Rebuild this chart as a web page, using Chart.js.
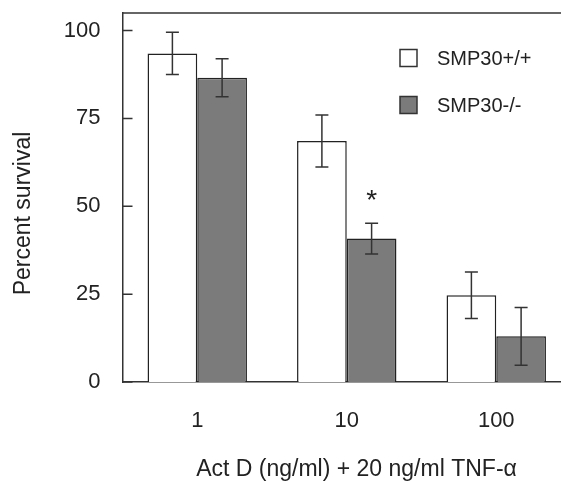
<!DOCTYPE html>
<html>
<head>
<meta charset="utf-8">
<script src="https://cdn.jsdelivr.net/npm/chart.js@4.4.1/dist/chart.umd.min.js"></script>
<style>
  html, body { margin: 0; padding: 0; background: #fff; overflow: hidden; }
  #wrap { width: 571px; height: 481px; position: relative; }
</style>
</head>
<body>
<div id="wrap"><canvas id="render"></canvas></div>
<script>
const categories = ['1', '10', '100'];
const seriesNames = ['SMP30+/+', 'SMP30-/-'];
const wildType = [93.5, 68.6, 24.7];
const wildTypeErr = [6.0, 7.4, 6.6];
const knockout = [86.6, 40.8, 13.0];
const knockoutErr = [5.4, 4.4, 8.2];
const knockoutMarks = ['', '*', ''];
const yTicks = [0, 25, 50, 75, 100];
const yTitle = 'Percent survival';
const xTitle = 'Act D (ng/ml) + 20 ng/ml TNF-α';

const ink = '#222';
const fontFamily = '"Liberation Sans", Arial, Helvetica, sans-serif';

const data = {
    labels: categories,
    datasets: [{
        label: seriesNames[0],
        data: wildType,
        errors: wildTypeErr,
        backgroundColor: '#ffffff',
        borderColor: ink,
        borderWidth: 1.5
    }, {
        label: seriesNames[1],
        data: knockout,
        errors: knockoutErr,
        marks: knockoutMarks,
        backgroundColor: '#7b7b7b',
        borderColor: ink,
        borderWidth: 1.5
    }]
};

// error bars, inward y ticks, top frame line, asterisk, legend, axis titles
const extras = {
    id: 'extras',
    afterDatasetsDraw(chart) {
        const ctx = chart.ctx;
        const y = chart.scales.y;
        const area = chart.chartArea;
        ctx.save();
        ctx.strokeStyle = '#333';
        ctx.lineWidth = 1.5;

        chart.data.datasets.forEach((ds, i) => {
            const meta = chart.getDatasetMeta(i);
            meta.data.forEach((bar, j) => {
                const v = ds.data[j], e = ds.errors[j];
                const top = y.getPixelForValue(v + e);
                const bot = y.getPixelForValue(v - e);
                ctx.beginPath();
                ctx.moveTo(bar.x, top); ctx.lineTo(bar.x, bot);
                ctx.moveTo(bar.x - 6.5, top); ctx.lineTo(bar.x + 6.5, top);
                ctx.moveTo(bar.x - 6.5, bot); ctx.lineTo(bar.x + 6.5, bot);
                ctx.stroke();
                if (ds.marks && ds.marks[j]) {
                    ctx.fillStyle = ink;
                    ctx.font = '28px ' + fontFamily;
                    ctx.textAlign = 'center';
                    ctx.textBaseline = 'alphabetic';
                    ctx.fillText(ds.marks[j], bar.x, top - 14);
                }
            });
        });

        // top frame line
        ctx.beginPath();
        ctx.moveTo(area.left, area.top);
        ctx.lineTo(area.right, area.top);
        ctx.stroke();

        // inward ticks on y axis
        ctx.beginPath();
        y.ticks.forEach(t => {
            const py = y.getPixelForValue(t.value);
            ctx.moveTo(area.left, py);
            ctx.lineTo(area.left + 10, py);
        });
        ctx.stroke();

        // legend
        ctx.font = '20px ' + fontFamily;
        ctx.textAlign = 'left';
        ctx.textBaseline = 'middle';
        chart.data.datasets.forEach((ds, i) => {
            const cy = 58 + i * 47;
            ctx.fillStyle = ds.backgroundColor;
            ctx.fillRect(400, cy - 8.5, 17, 17);
            ctx.strokeRect(400, cy - 8.5, 17, 17);
            ctx.fillStyle = ink;
            ctx.fillText(ds.label, 437, cy + 1);
        });

        // axis titles (slightly off the plot centre in the original)
        ctx.font = '23px ' + fontFamily;
        ctx.textAlign = 'center';
        ctx.textBaseline = 'middle';
        ctx.fillStyle = ink;
        ctx.fillText(xTitle, 356.5, 470);
        ctx.translate(24, 213.5);
        ctx.rotate(-Math.PI / 2);
        ctx.fillText(yTitle, 0, 0);
        ctx.restore();
    }
};

const ctx = document.getElementById('render');
const chart = new Chart(ctx, {
    type: 'bar',
    data: data,
    options: {
        responsive: true,
        maintainAspectRatio: false,
        animation: false,
        layout: { padding: 0 },
        datasets: {
            bar: { categoryPercentage: 0.665, barPercentage: 1.0 }
        },
        plugins: {
            legend: { display: false },
            tooltip: { enabled: false }
        },
        scales: {
            x: {
                offset: true,
                grid: { display: false, drawTicks: false },
                border: { display: true, color: '#333', width: 1.5 },
                ticks: { color: ink, font: { family: fontFamily, size: 22 }, padding: 26 },
                title: { display: false },
                afterFit: s => { s.height = 99; s.paddingLeft = 0; s.paddingRight = 0; }
            },
            y: {
                min: 0,
                max: 105,
                grid: { display: false, drawTicks: false },
                border: { display: true, color: '#333', width: 1.5 },
                afterBuildTicks: s => { s.ticks = yTicks.map(v => ({ value: v })); },
                ticks: { color: ink, font: { family: fontFamily, size: 22 }, padding: 22 },
                title: { display: false },
                afterFit: s => { s.width = 122.5; s.paddingTop = 13; s.paddingBottom = 0; }
            }
        }
    },
    plugins: [extras]
});
</script>
</body>
</html>
